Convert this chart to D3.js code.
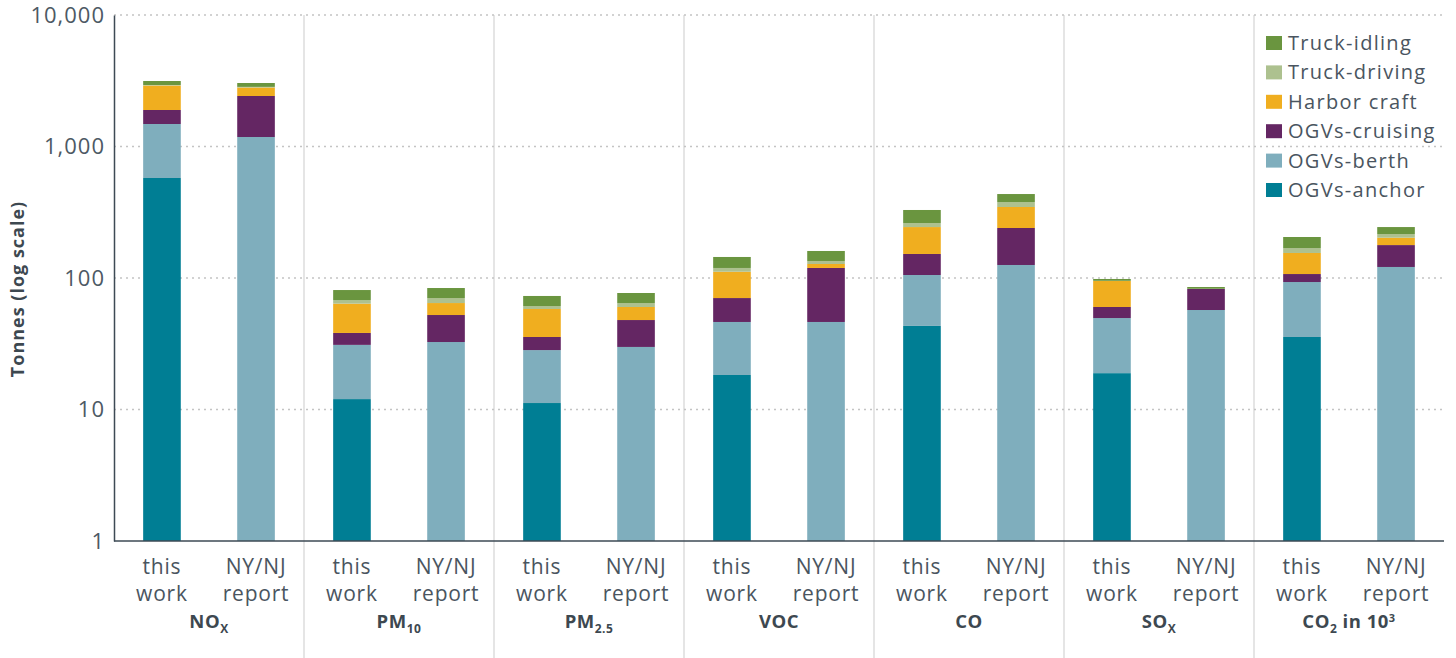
<!DOCTYPE html>
<html><head><meta charset="utf-8">
<script src="https://cdn.jsdelivr.net/npm/d3@7"></script>
<style>
body{margin:0;background:#fff;}
svg text{font-family:"Open Sans","Noto Sans",sans-serif;}
</style></head>
<body><svg id="c" width="1456" height="658"></svg>
<script>
const categories = ["NOx","PM10","PM2.5","VOC","CO","SOx","CO2"];
const sources = ["this work","NY/NJ report"];
const seriesNames = ["OGVs-anchor","OGVs-berth","OGVs-cruising","Harbor craft","Truck-driving","Truck-idling"];
const seriesColors = ["#007e94","#7faebd","#642663","#f0ae1f","#adc18f","#6a953f"];
const yTicks = [1,10,100,1000,10000];
const yTickLabels = ["1","10","100","1,000","10,000"];
// segment values per source, per category, in series order
const anchor  = [[576,12.0,11.2,18.3,43.2,18.9,35.6],[0,0,0,0,0,0,0]];
const berth   = [[907,19.0,17.1,28.0,62.2,30.7,57.6],[1181,32.6,29.9,46.3,125.6,57.1,121.3]];
const cruising= [[412,7.2,7.3,24.1,46.9,10.6,14.0],[1240,19.7,18.0,72.9,114.4,25.4,56.7]];
const harbor  = [[1015,25.6,22.5,41.2,91.7,34.7,47.8],[389,12.2,12.3,8.6,106.7,0,24.5]];
const driving = [[26,4.2,3.1,7.6,18,0.3,14],[30,5.9,4.3,6.9,31.3,0.3,13.5]];
const idling  = [[212,13.0,11.8,25.3,67,3.1,36],[200,13.5,12.4,25.8,57,2.6,28]];
const seriesData = [anchor,berth,cruising,harbor,driving,idling];

const svg = d3.select("#c");
const L=114, R=1444, T=15, B=541;
const x0 = d3.scaleBand().domain(categories).range([L,R]);
const x1 = d3.scaleBand().domain(sources).range([0,x0.bandwidth()]).paddingInner(0.6).paddingOuter(0.31);
const y = d3.scaleLog().domain([1,10000]).range([B,T]);
const txt="#4a5560";

// separators
svg.append("g").selectAll("line").data(categories.slice(1)).join("line")
  .attr("x1",d=>x0(d)).attr("x2",d=>x0(d)).attr("y1",T).attr("y2",658)
  .attr("stroke","#dcdcdc").attr("stroke-width",1.5);
// grid
svg.append("g").selectAll("line").data(yTicks.slice(1)).join("line")
  .attr("x1",L).attr("x2",R).attr("y1",d=>y(d)).attr("y2",d=>y(d))
  .attr("stroke","#c4c4c4").attr("stroke-width",1.5).attr("stroke-dasharray","2,4");

// bars
const rows=[];
categories.forEach((c,ci)=>{
  sources.forEach((s,si)=>{
    let cum=1;
    seriesNames.forEach((n,k)=>{
      const v=seriesData[k][si][ci];
      const lo = cum; const hi = Math.max(1,(cum===1?0:cum)+v);
      if(hi>lo) rows.push({c,s,k,lo,hi});
      cum = hi;
    });
  });
});
svg.append("g").selectAll("rect").data(rows).join("rect")
  .attr("x",d=>x0(d.c)+x1(d.s)).attr("width",x1.bandwidth())
  .attr("y",d=>y(d.hi)).attr("height",d=>y(d.lo)-y(d.hi))
  .attr("fill",d=>seriesColors[d.k]);

// axes
const yAxis = d3.axisLeft(y).tickValues(yTicks).tickFormat((d,i)=>yTickLabels[i]).tickSize(0).tickPadding(9);
const ga = svg.append("g").attr("transform",`translate(${L},0)`).call(yAxis);
ga.select(".domain").attr("stroke","#3d4a55").attr("stroke-width",1.5);
ga.selectAll("text").attr("font-size",22).attr("fill","#4d5964").attr("letter-spacing",1)
  .attr("font-family","'Open Sans',sans-serif").attr("font-weight",400);
svg.append("line").attr("x1",L).attr("x2",R).attr("y1",B).attr("y2",B).attr("stroke","#3d4a55").attr("stroke-width",1.5);

// category source labels
const lab = svg.append("g");
categories.forEach(c=>{
  sources.forEach(s=>{
    const cx = x0(c)+x1(s)+x1.bandwidth()/2;
    const parts = s==="this work"?["this","work"]:["NY/NJ","report"];
    parts.forEach((p,i)=>{
      lab.append("text").attr("x",cx).attr("y",574+i*27).attr("text-anchor","middle")
        .attr("font-size",21).attr("letter-spacing",0.8).attr("fill",txt).text(p);
    });
  });
});
// group labels with sub/superscripts
const groupLabelParts = {
  "NOx":[["NO",""],["X","sub"]],
  "PM10":[["PM",""],["10","sub"]],
  "PM2.5":[["PM",""],["2.5","sub"]],
  "VOC":[["VOC",""]],
  "CO":[["CO",""]],
  "SOx":[["SO",""],["X","sub"]],
  "CO2":[["CO",""],["2","sub"],[" in 10",""],["3","sup"]]
};
categories.forEach(c=>{
  const t = svg.append("text").attr("x",x0(c)+x0.bandwidth()/2).attr("y",628).attr("text-anchor","middle")
    .attr("font-size",18.5).attr("font-weight",700).attr("letter-spacing",0.5).attr("fill","#3d4850");
  const offs=[];
  groupLabelParts[c].forEach(([str,typ])=>{
    const ts=t.append("tspan").text(str);
    if(typ==="sub"){ ts.attr("font-size",12); offs.push(5);} 
    else if(typ==="sup"){ ts.attr("font-size",11); offs.push(-6);} 
    else offs.push(0);
  });
  let prev=0;
  t.selectAll("tspan").each(function(d,i){
    d3.select(this).attr("dy", offs[i]-prev); prev=offs[i];
  });
});

// y title
svg.append("text").attr("transform",`translate(24,289) rotate(-90)`).attr("text-anchor","middle")
  .attr("font-size",18).attr("font-weight",700).attr("letter-spacing",1).attr("fill","#3d4850").text("Tonnes (log scale)");

// legend (top to bottom: reversed)
const leg = svg.append("g").attr("transform","translate(1266,43)");
const legOrder = seriesNames.map((n,i)=>i).reverse();
legOrder.forEach((k,i)=>{
  const g=leg.append("g").attr("transform",`translate(0,${i*29.4})`);
  g.append("rect").attr("x",0).attr("y",-7).attr("width",16).attr("height",14).attr("fill",seriesColors[k]);
  g.append("text").attr("x",22).attr("y",0).attr("dy","0.35em").attr("font-size",20).attr("letter-spacing",1.3).attr("fill",txt).text(seriesNames[k]);
});
</script></body></html>
